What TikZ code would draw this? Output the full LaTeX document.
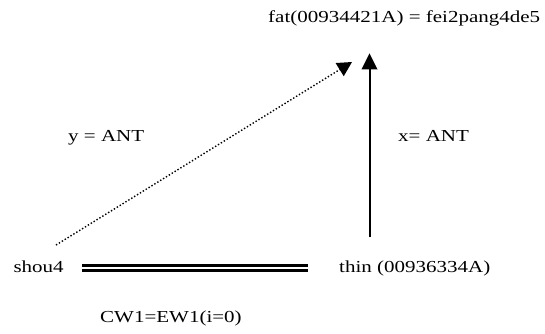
\documentclass[tikz,border=0pt]{standalone}
\usepackage{fontspec}
\setmainfont{Liberation Serif}
\usetikzlibrary{arrows.meta}
\newcommand{\hstretch}[1]{\scalebox{1.25}[1]{#1}}
\tikzset{
  lbl/.style={anchor=base west, inner sep=0pt, font=\fontsize{16.8}{20}\selectfont},
  solidarrow/.style={line width=2pt, -{Triangle[length=16pt, width=15.5pt]}},
  dotarrow/.style={line width=1.4pt, dotted, -{Triangle[length=14.5pt, width=15.5pt, line width=0pt]}},
  dbl/.style={double, line width=3.2pt, double distance=1.8pt}
}
\begin{document}
\begin{tikzpicture}[x=1pt, y=-1pt]
\useasboundingbox (0,0) rectangle (545,333);
\node[lbl] (title) at (268,22) {\hstretch{fat(00934421A) = fei2pang4de5}};
\node[lbl] (ylab) at (68,141.7) {\hstretch{y = ANT}};
\node[lbl] (xlab) at (398,141.7) {\hstretch{x= ANT}};
\node[lbl] (shou) at (13.3,272.3) {\hstretch{shou4}};
\node[lbl] (thin) at (339,272.3) {\hstretch{thin (00936334A)}};
\node[lbl] (cw) at (100,322) {\hstretch{CW1=EW1(i=0)}};
\coordinate (dotS) at (56,245);
\coordinate (dotE) at (352,62);
\coordinate (vS) at (369.5,237);
\coordinate (vE) at (369.5,53.3);
\coordinate (dblS) at (82,268);
\coordinate (dblE) at (308,268);
\draw[dotarrow] (dotS) -- (dotE);
\draw[solidarrow] (vS) -- (vE);
\draw[dbl] (dblS) -- (dblE);
\end{tikzpicture}
\end{document}
